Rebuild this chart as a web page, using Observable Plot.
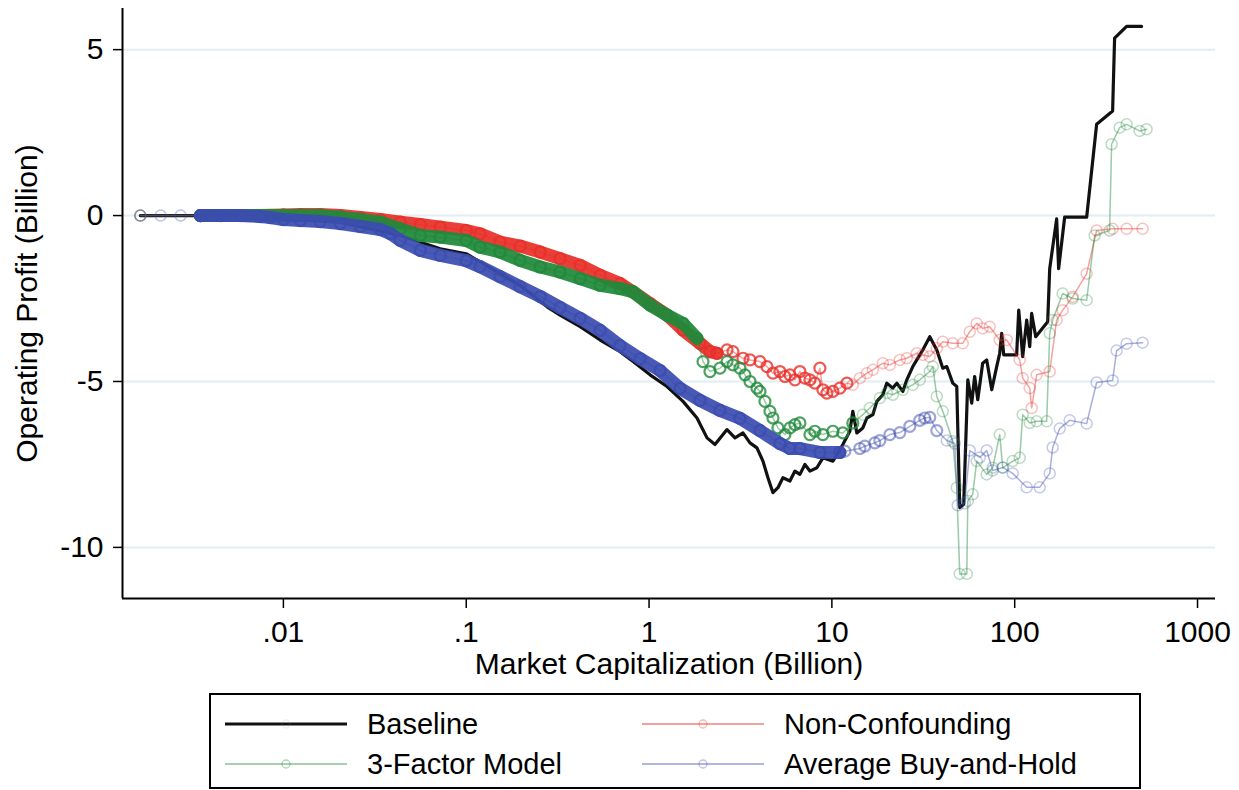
<!DOCTYPE html>
<html><head><meta charset="utf-8">
<script src="https://cdn.jsdelivr.net/npm/d3@7"></script>
<script src="https://cdn.jsdelivr.net/npm/@observablehq/plot@0.6"></script>
<style>
body{margin:0;background:#fff;font-family:"Liberation Sans",Arial,sans-serif;}
#wrap{position:relative;width:1239px;height:790px;overflow:hidden;}
#legend{position:absolute;left:209px;top:693px;width:932px;height:96px;border:2px solid #000;box-sizing:border-box;background:#fff;}
.item{position:absolute;height:36px;display:flex;align-items:center;font-size:29px;color:#000;white-space:nowrap;}
.item svg{margin-right:20px;}
</style></head><body>
<div id="wrap"><div id="chart"></div><div id="legend"></div></div>
<script>
// ---- data: [market cap (billion), operating profit (billion)] ----
const baseline = [[0.00165,0],[0.00352,0],[0.01,-0.1],[0.0205,-0.2],[0.0436,-0.6],[0.0721,-1.0],[0.1,-1.15],[0.153,-1.75],[0.197,-2.1],[0.277,-2.75],[0.326,-3.0],[0.420,-3.35],[0.540,-3.75],[0.694,-4.1],[0.818,-4.4],[1.013,-4.8],[1.254,-5.15],[1.534,-5.6],[1.829,-6.1],[2.075,-6.7],[2.294,-6.9],[2.669,-6.45],[2.951,-6.7],[3.264,-6.55],[3.565,-6.85],[3.892,-7.0],[4.198,-7.4],[4.470,-7.9],[4.761,-8.35],[5.069,-8.2],[5.397,-7.9],[5.896,-8.0],[6.280,-7.7],[6.684,-7.8],[7.120,-7.5],[7.584,-7.7],[8.279,-7.6],[8.93,-7.3],[10.13,-7.4],[11.48,-6.9],[12.54,-6.5],[13.02,-5.9],[13.69,-6.55],[14.77,-6.4],[15.54,-6.1],[16.75,-6.0],[17.62,-5.6],[19.0,-5.4],[19.98,-5.05],[21.54,-5.2],[22.66,-5.05],[24.43,-5.3],[25.69,-4.95],[27.71,-4.55],[29.14,-4.35],[31.42,-4.05],[34.32,-3.65],[37.48,-4.05],[40.43,-4.6],[42.51,-4.55],[45.84,-5.05],[48.2,-5.15],[50.06,-8.8],[52.6,-8.7],[55.4,-4.95],[58.2,-5.65],[60.4,-4.85],[62.8,-5.55],[66.8,-4.45],[70.3,-4.35],[74.9,-5.25],[79.7,-4.55],[82.8,-4.15],[84.9,-3.55],[87.1,-4.2],[102.5,-4.2],[105.2,-2.85],[110.6,-4.25],[116.3,-3.15],[120.8,-3.95],[123.8,-2.95],[130.3,-3.65],[151.5,-3.2],[155.4,-1.6],[169.6,-0.1],[173.9,-1.6],[187.6,-0.05],[247.5,-0.05],[280.6,2.75],[343.2,3.15],[351.9,5.35],[409.3,5.7],[494.3,5.7]];

const nonConfounding = [[0.00165,0],[0.00352,0],[0.00749,0],[0.01,0.02],[0.0124,0.03],[0.0159,0.03],[0.0205,0],[0.0264,-0.06],[0.0339,-0.12],[0.0436,-0.2],[0.0561,-0.27],[0.0721,-0.35],[0.1,-0.45],[0.119,-0.55],[0.153,-0.8],[0.197,-0.92],[0.254,-1.1],[0.326,-1.3],[0.420,-1.5],[0.540,-1.8],[0.694,-2.05],[0.818,-2.3],[1.013,-2.65],[1.254,-3.0],[1.534,-3.45],[1.899,-3.85],[2.154,-4.1],[2.353,-4.15],[2.669,-4.05],[2.877,-4.1],[3.264,-4.3],[3.565,-4.35],[4.043,-4.4],[4.413,-4.55],[4.761,-4.75],[5.197,-4.7],[5.536,-4.85],[5.896,-4.8],[6.280,-4.95],[6.684,-4.7],[7.120,-4.9],[7.584,-4.95],[8.074,-5.05],[8.599,-4.6],[8.93,-5.25],[9.39,-5.35],[10.13,-5.3],[11.06,-5.2],[12.08,-5.05],[13.02,-5.1],[14.22,-4.9],[15.54,-4.75],[16.75,-4.65],[19.0,-4.45],[20.75,-4.5],[23.53,-4.35],[25.69,-4.3],[29.14,-4.15],[31.42,-4.2],[34.32,-4.25],[37.48,-4.0],[40.43,-3.8],[45.84,-3.85],[51.98,-3.85],[56.8,-3.5],[62.0,-3.25],[66.8,-3.4],[73.0,-3.35],[82.8,-3.75],[90.4,-3.75],[106.5,-4.35],[110.6,-4.9],[120.8,-5.2],[123.8,-5.8],[131.9,-4.8],[155.4,-4.7],[169.6,-3.15],[182.9,-2.85],[207.5,-2.45],[247.5,-1.75],[280.6,-0.45],[343.2,-0.4],[409.3,-0.4],[500.6,-0.4]];

const threeFactor = [[0.00165,0],[0.00352,0],[0.00749,0],[0.01,0],[0.0124,0],[0.0159,0],[0.0205,-0.05],[0.0264,-0.12],[0.0339,-0.2],[0.0436,-0.4],[0.0561,-0.6],[0.0721,-0.65],[0.1,-0.75],[0.119,-0.95],[0.153,-1.1],[0.197,-1.35],[0.254,-1.55],[0.326,-1.7],[0.420,-1.9],[0.540,-2.1],[0.694,-2.2],[0.818,-2.3],[1.013,-2.7],[1.254,-3.0],[1.534,-3.25],[1.829,-3.7],[1.973,-4.4],[2.154,-4.7],[2.443,-4.6],[2.669,-4.4],[2.877,-4.5],[3.142,-4.6],[3.347,-4.8],[3.565,-5.0],[3.892,-5.2],[4.043,-5.3],[4.304,-5.6],[4.584,-5.9],[4.761,-6.1],[5.069,-6.4],[5.536,-6.6],[5.896,-6.4],[6.280,-6.3],[6.684,-6.25],[7.584,-6.6],[8.074,-6.5],[8.93,-6.6],[10.13,-6.5],[11.48,-6.55],[13.02,-6.25],[14.77,-6.0],[16.13,-5.8],[18.30,-5.5],[19.98,-5.35],[21.54,-5.4],[24.43,-5.25],[27.71,-5.1],[30.26,-4.95],[34.32,-4.7],[35.64,-4.55],[37.48,-5.45],[40.43,-5.9],[45.84,-6.8],[48.2,-8.2],[50.06,-10.8],[54.7,-10.8],[55.4,-8.6],[58.9,-8.4],[62.0,-7.4],[70.3,-7.8],[75.8,-7.6],[82.8,-6.6],[86.0,-7.6],[97.5,-7.4],[106.5,-7.3],[110.6,-6.0],[120.8,-6.25],[131.9,-6.2],[149.6,-6.2],[155.4,-3.55],[161.3,-3.15],[182.9,-2.35],[207.5,-2.5],[247.5,-2.55],[273.6,-0.6],[330.5,-0.45],[338.9,2.15],[374.8,2.65],[409.3,2.75],[482.1,2.55],[526.3,2.6]];

const buyAndHold = [[0.00165,0],[0.00213,0],[0.00274,0],[0.00352,0],[0.00453,0],[0.00582,0],[0.00749,-0.03],[0.00849,-0.06],[0.01,-0.12],[0.0124,-0.15],[0.0159,-0.18],[0.0205,-0.24],[0.0264,-0.33],[0.0339,-0.42],[0.0384,-0.54],[0.0436,-0.75],[0.0561,-1.05],[0.0721,-1.2],[0.1,-1.36],[0.119,-1.54],[0.153,-1.84],[0.197,-2.14],[0.254,-2.44],[0.326,-2.77],[0.420,-3.1],[0.540,-3.46],[0.694,-3.92],[0.893,-4.31],[1.148,-4.67],[1.477,-5.21],[1.899,-5.57],[2.443,-5.87],[3.142,-6.11],[4.043,-6.48],[5.197,-6.87],[5.896,-7.02],[6.684,-7.02],[8.599,-7.14],[11.06,-7.14],[11.78,-7.1],[14.22,-7.02],[15.14,-6.95],[17.18,-6.85],[18.30,-6.78],[20.75,-6.6],[23.53,-6.54],[26.7,-6.35],[30.26,-6.17],[32.2,-6.1],[34.32,-6.08],[37.48,-6.48],[42.51,-6.78],[47.0,-6.87],[48.8,-8.73],[53.3,-8.67],[56.8,-7.08],[64.4,-7.29],[70.3,-7.08],[75.8,-7.68],[86.0,-7.59],[97.5,-7.77],[116.3,-8.19],[136.9,-8.19],[155.4,-7.77],[161.3,-6.99],[176.2,-6.42],[199.8,-6.17],[247.5,-6.27],[280.6,-5.03],[343.2,-4.97],[360.9,-4.07],[409.3,-3.86],[500.6,-3.83]];

const seriesNames = ["Baseline", "Non-Confounding", "3-Factor Model", "Average Buy-and-Hold"];
const xTicks = [0.01, 0.1, 1, 10, 100, 1000];
const xTickLabels = [".01", ".1", "1", "10", "100", "1000"];
const yTicks = [5, 0, -5, -10];
const yTickLabels = ["5", "0", "-5", "-10"];
const xTitle = "Market Capitalization (Billion)";
const yTitle = "Operating Profit (Billion)";

// ---- styling ----
const FS = 30;
const xDomain = [0.001318, 1254];
const yDomain = [-11.54, 6.24];
const colored = [
  {data: nonConfounding, color: "#e8302a", band: [0.0035, 2.45], cut: 13, mid: 0.8},
  {data: threeFactor,    color: "#20893a", band: [0.0035, 1.9],  cut: 14, mid: 0.8},
  {data: buyAndHold,     color: "#3b4cb0", band: [0.0035, 11.5], cut: 40, mid: 0.5}
];
const X = d => d[0], Y = d => d[1];

const marks = [
  Plot.ruleY(yTicks, {stroke: "#e1eef2", strokeWidth: 2}),
  Plot.line(baseline, {x: X, y: Y, stroke: "#111", strokeWidth: 3.2, strokeLinejoin: "round"})
];
for (const s of colored) {
  const inMid = d => d[0] < s.cut && d[0] >= s.band[0];
  const op = d => d[0] < s.band[0] ? 0.35 : d[0] <= s.band[1] ? 0.9 : d[0] < s.cut ? s.mid : 0.3;
  marks.push(
    Plot.line(s.data.filter(d => d[0] >= s.band[0] && d[0] <= s.band[1]),
      {x: X, y: Y, stroke: s.color, strokeWidth: 13, strokeOpacity: 0.93, strokeLinejoin: "round", strokeLinecap: "round"}),
    Plot.line(s.data, {x: X, y: Y, stroke: s.color, strokeWidth: 1.5, strokeOpacity: 0.45}),
    Plot.dot(s.data.filter(d => !inMid(d)),
      {x: X, y: Y, r: 5.5, fill: "none", stroke: s.color, strokeWidth: 1.5, strokeOpacity: op}),
    Plot.dot(s.data.filter(inMid),
      {x: X, y: Y, r: 5.5, fill: "none", stroke: s.color, strokeWidth: 2.2, strokeOpacity: op})
  );
}
marks.push(
  Plot.ruleX([xDomain[0]], {stroke: "#000", strokeWidth: 2}),
  Plot.ruleY([yDomain[0]], {stroke: "#000", strokeWidth: 2}),
  Plot.axisX(xTicks, {tickSize: 10, tickPadding: 12, fontSize: FS, label: null, strokeWidth: 1.5,
    tickFormat: d => xTickLabels[xTicks.indexOf(d)]}),
  Plot.axisY(yTicks, {tickSize: 9, tickPadding: 10, fontSize: FS, label: null, strokeWidth: 1.5,
    tickFormat: d => yTickLabels[yTicks.indexOf(d)]}),
  Plot.text([xTitle], {frameAnchor: "bottom", lineAnchor: "middle", textAnchor: "middle", dy: 66, fontSize: FS, fill: "#000"}),
  Plot.text([yTitle], {frameAnchor: "left", lineAnchor: "middle", textAnchor: "middle", dx: -95, rotate: -90, fontSize: FS, fill: "#000"})
);

const chart = Plot.plot({
  width: 1239, height: 688,
  marginLeft: 122, marginRight: 24, marginTop: 8, marginBottom: 90,
  x: {type: "log", domain: xDomain},
  y: {domain: yDomain},
  style: {fontFamily: "'Liberation Sans', Arial, sans-serif", fontSize: FS + "px", color: "#000", background: "#fff", overflow: "visible"},
  marks
});
document.getElementById("chart").appendChild(chart);

// ---- legend ----
const legendItems = [
  {name: seriesNames[0], color: "#111", width: 3.2, opacity: 1, left: 14, top: 11},
  {name: seriesNames[1], color: "#e8302a", width: 1.8, opacity: 0.45, left: 431, top: 11},
  {name: seriesNames[2], color: "#20893a", width: 1.8, opacity: 0.4, left: 14, top: 51},
  {name: seriesNames[3], color: "#3b4cb0", width: 1.8, opacity: 0.4, left: 431, top: 51}
];
const legend = document.getElementById("legend");
for (const it of legendItems) {
  const div = document.createElement("div");
  div.className = "item";
  div.style.left = it.left + "px";
  div.style.top = it.top + "px";
  const ns = "http://www.w3.org/2000/svg";
  const svg = document.createElementNS(ns, "svg");
  svg.setAttribute("width", 122); svg.setAttribute("height", 20);
  const ln = document.createElementNS(ns, "line");
  ln.setAttribute("x1", 0); ln.setAttribute("x2", 122); ln.setAttribute("y1", 10); ln.setAttribute("y2", 10);
  ln.setAttribute("stroke", it.color); ln.setAttribute("stroke-width", it.width); ln.setAttribute("stroke-opacity", it.opacity);
  svg.appendChild(ln);
  const c = document.createElementNS(ns, "circle");
  c.setAttribute("cx", 61); c.setAttribute("cy", 10); c.setAttribute("r", 4);
  c.setAttribute("fill", "none"); c.setAttribute("stroke", it.color === "#111" ? "#999" : it.color);
  c.setAttribute("stroke-opacity", it.color === "#111" ? 0.15 : 0.35); c.setAttribute("stroke-width", 1.3);
  svg.appendChild(c);
  div.appendChild(svg);
  const sp = document.createElement("span");
  sp.textContent = it.name;
  div.appendChild(sp);
  legend.appendChild(div);
}
</script>
</body></html>
